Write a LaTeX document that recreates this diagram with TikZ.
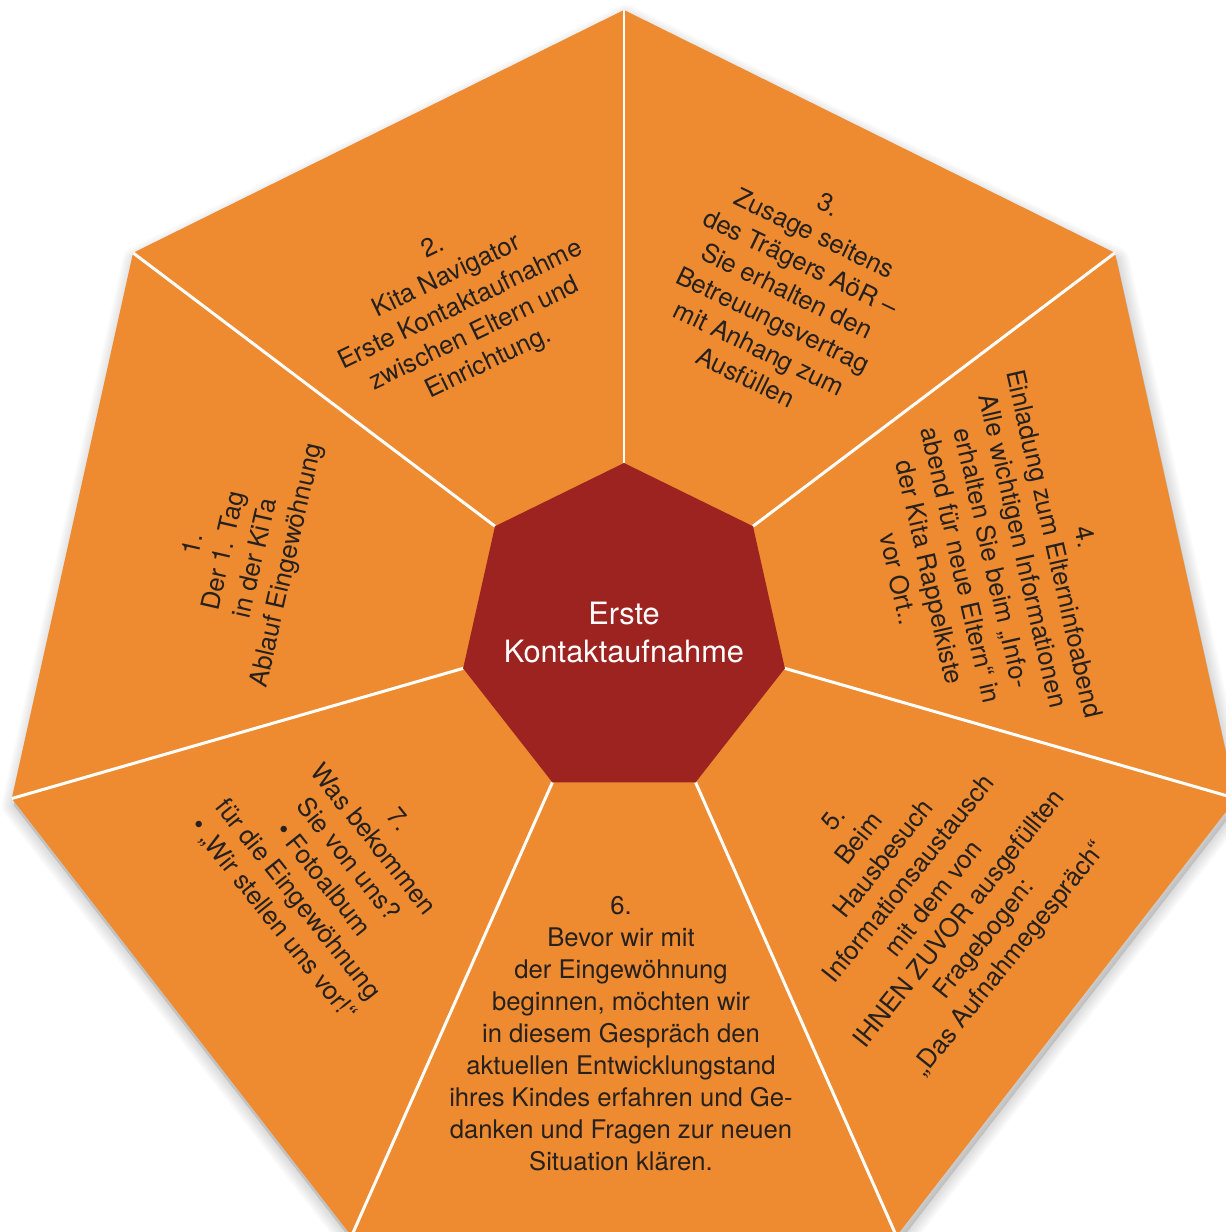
\documentclass[tikz,border=0pt]{standalone}
\usepackage{fontspec}
\setmainfont{TeX Gyre Heros}
\usepackage{tikz}

\definecolor{segorange}{RGB}{238,139,48}
\definecolor{hubred}{RGB}{157,35,33}
\definecolor{textdark}{RGB}{38,33,30}

\begin{document}
\begin{tikzpicture}[x=0.02cm, y=0.02cm,
    seg/.style={align=center, inner sep=0pt, text=textdark,
      font=\fontsize{14.6pt}{18.2pt}\selectfont},
    hub/.style={align=center, inner sep=0pt, text=white,
      font=\fontsize{17.5pt}{22pt}\selectfont},
    spoke/.style={white, line width=1.7pt}]
  \clip (0,0) rectangle (1226,1232);

  %% Corner points, counted anticlockwise from the top
  \begin{scope}[shift={(624,577)}]
    \foreach \k in {0,...,6}
      \coordinate (o\k) at (90+51.4286*\k:628 and 645);
  \end{scope}
  \begin{scope}[shift={(624,601)}]
    \foreach \k in {0,...,6}
      \coordinate (i\k) at (90+51.4286*\k:165 and 168);
  \end{scope}

  %% Soft shadow below the outer ring
  \begin{scope}[shift={(626,570)}]
    \foreach \w in {2,4,...,14}
      \filldraw[black, opacity=0.02, line width=\w pt, line join=round]
        (90:628 and 645) \foreach \k in {1,...,6}{ -- (90+51.4286*\k:628 and 645)} -- cycle;
  \end{scope}

  %% Outer ring and the white spokes
  \fill[segorange] (o0) \foreach \k in {1,...,6}{ -- (o\k)} -- cycle;
  \foreach \k in {0,...,6}
    \draw[spoke] (i\k) -- (o\k);

  %% Hub
  \fill[hubred] (i0) \foreach \k in {1,...,6}{ -- (i\k)} -- cycle;
  \node[hub] (hubtext) at (624,599.5) {Erste\\Kontaktaufnahme};

  %% Segment texts, turned along their segment
  \node[seg, rotate=77.14] (stage1) at (241,677)
    {1.\\Der 1. Tag\\in der KiTa\\Ablauf Eingewöhnung};
  \node[seg, rotate=25.71] (stage2) at (461,926)
    {2.\\Kita Navigator\\Erste Kontaktaufnahme\\zwischen Eltern und\\Einrichtung.};
  \node[seg, rotate=-25.71] (stage3) at (787,941)
    {3.\\Zusage seitens\\des Trägers AöR –\\Sie erhalten den\\Betreuungsvertrag\\mit Anhang zum\\Ausfüllen};
  \node[seg, rotate=-77.14] (stage4) at (992,674)
    {4.\\Einladung zum Elterninfoabend\\Alle wichtigen Informationen\\erhalten Sie beim „Info-\\abend für neue Eltern“ in\\der Kita Rappelkiste\\vor Ort..};
  \node[seg, rotate=51.43] (stage5) at (923,342)
    {5.\\Beim\\Hausbesuch\\Informationsaustausch\\mit dem von\\IHNEN ZUVOR ausgefüllten\\Fragebogen:\\„Das Aufnahmegespräch“};
  \node[seg] (stage6) at (621,198)
    {6.\\Bevor wir mit\\der Eingewöhnung\\beginnen, möchten wir\\in diesem Gespräch den\\aktuellen Entwicklungstand\\ihres Kindes erfahren und Ge-\\danken und Fragen zur neuen\\Situation klären.};
  \node[seg, rotate=-51.43] (stage7) at (335,362)
    {7.\\Was bekommen\\Sie von uns?\\• Fotoalbum\\für die Eingewöhnung\\• „Wir stellen uns vor!“};
\end{tikzpicture}
\end{document}
